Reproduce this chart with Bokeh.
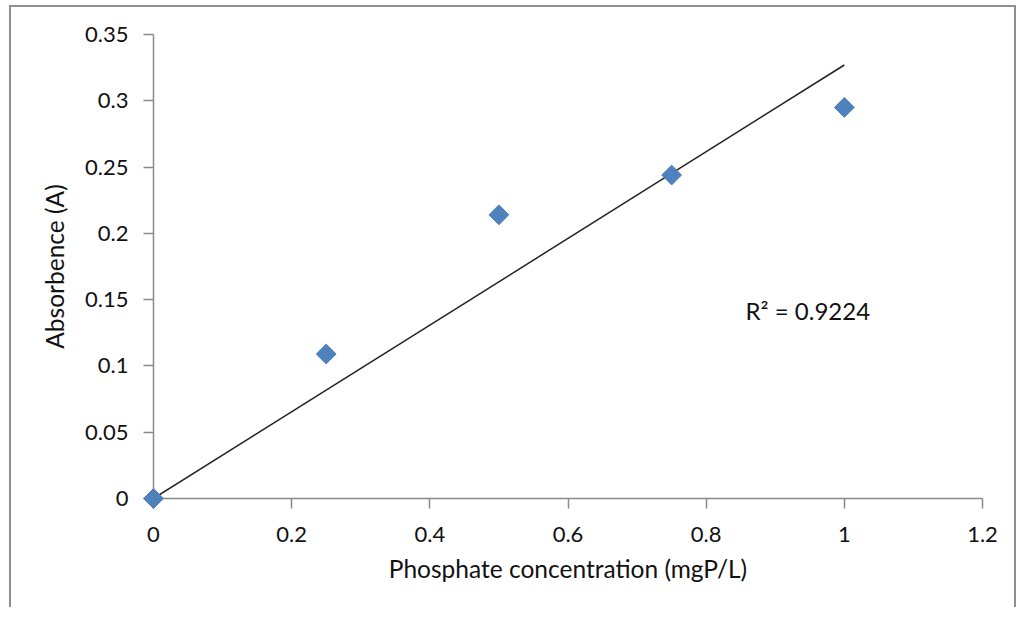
from bokeh.plotting import figure
from bokeh.models import Range1d, FixedTicker, Label, ColumnDataSource, CustomJSTickFormatter
from bokeh.embed import file_html
from bokeh.resources import INLINE
import math

# ---- data ----
x_conc = [0.0, 0.25, 0.5, 0.75, 1.0]
absorb = [0.0, 0.109, 0.214, 0.244, 0.295]
trend_x = [0.0, 1.0]
trend_y = [0.0, 0.327]
x_ticks = [0.0, 0.2, 0.4, 0.6, 0.8, 1.0, 1.2]
x_tick_labels = ["0", "0.2", "0.4", "0.6", "0.8", "1", "1.2"]
y_ticks = [0.0, 0.05, 0.1, 0.15, 0.2, 0.25, 0.3, 0.35]
y_tick_labels = ["0", "0.05", "0.1", "0.15", "0.2", "0.25", "0.3", "0.35"]
x_title = "Phosphate concentration (mgP/L)"
y_title = "Absorbence (A)"
r2_text = "R\u00b2 = 0.9224"

FONT = "Lato"
TXT = "#111111"
AX = "#8a8a8a"

p = figure(width=1003, height=600, output_backend="svg", toolbar_location=None,
           x_range=Range1d(0, 1.2), y_range=Range1d(0, 0.35),
           min_border_left=142, min_border_right=36, min_border_top=27, min_border_bottom=111,
           background_fill_color="white", border_fill_color="white")
p.styles = {"margin-left": "9px", "margin-top": "5px",
            "width": "1003px", "height": "600px", "box-sizing": "content-box",
            "border-top": "2px solid #8f8f8f", "border-left": "2px solid #8f8f8f",
            "border-right": "2px solid #8f8f8f"}
p.outline_line_color = None
p.xgrid.visible = False
p.ygrid.visible = False

fmt_code = """
let best = -1; let bd = 1e9;
for (let i = 0; i < tv.length; i++) { const d = Math.abs(tv[i] - tick); if (d < bd) { bd = d; best = i; } }
return bd < 1e-6 ? tl[best] : "";
"""
p.xaxis.ticker = FixedTicker(ticks=x_ticks)
p.yaxis.ticker = FixedTicker(ticks=y_ticks)
p.xaxis.formatter = CustomJSTickFormatter(args=dict(tv=x_ticks, tl=x_tick_labels), code=fmt_code)
p.yaxis.formatter = CustomJSTickFormatter(args=dict(tv=y_ticks, tl=y_tick_labels), code=fmt_code)

for ax in (p.xaxis[0], p.yaxis[0]):
    ax.axis_line_color = AX
    ax.axis_line_width = 1.5
    ax.major_tick_line_color = AX
    ax.major_tick_line_width = 1.5
    ax.major_tick_in = 0
    ax.major_tick_out = 10
    ax.minor_tick_line_color = None
    ax.major_label_text_font = FONT
    ax.major_label_text_font_size = "22px"
    ax.major_label_text_color = TXT
    ax.axis_label_text_font = FONT
    ax.axis_label_text_font_size = "24.5px"
    ax.axis_label_text_font_style = "normal"
    ax.axis_label_text_color = TXT

p.xaxis.axis_label = x_title
p.yaxis.axis_label = y_title
p.xaxis.major_label_standoff = 18
p.yaxis.major_label_standoff = 15
p.xaxis.axis_label_standoff = 9
p.yaxis.axis_label_standoff = 13

p.line(trend_x, trend_y, line_color="#222222", line_width=1.5)
src = ColumnDataSource(dict(x=x_conc, y=absorb))
p.scatter("x", "y", source=src, marker="square", size=14, angle=math.pi / 4,
          fill_color="#4F81BD", line_color="#4A7EBB", line_width=1, level="overlay")

p.add_layout(Label(x=0.857, y=0.1418, text=r2_text, text_font=FONT, text_font_size="24px",
                   text_color=TXT, text_baseline="middle"))

open("out.html", "w").write(file_html(p, INLINE))
